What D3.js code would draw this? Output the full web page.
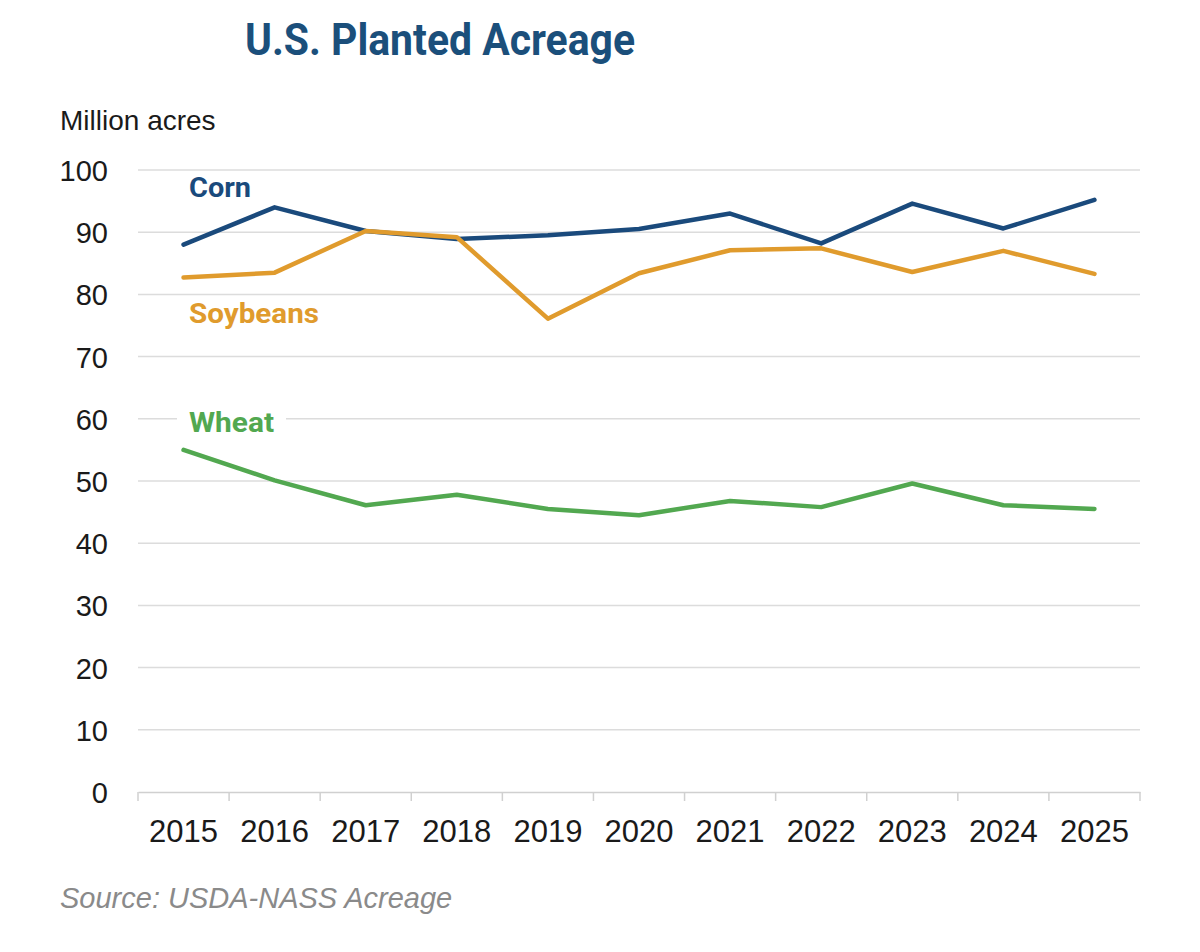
<!DOCTYPE html>
<html><head><meta charset="utf-8">
<script src="https://cdn.jsdelivr.net/npm/d3@7"></script>
<style>html,body{margin:0;padding:0;background:#fff;}</style>
</head><body>
<svg id="chart" width="1200" height="952"></svg>
<script>
const years = ["2015","2016","2017","2018","2019","2020","2021","2022","2023","2024","2025"];
const corn = [88.0, 94.0, 90.2, 88.9, 89.5, 90.5, 93.0, 88.2, 94.6, 90.6, 95.2];
const soybeans = [82.7, 83.5, 90.2, 89.2, 76.1, 83.4, 87.1, 87.4, 83.6, 87.0, 83.3];
const wheat = [55.0, 50.1, 46.1, 47.8, 45.5, 44.5, 46.8, 45.8, 49.6, 46.1, 45.5];
const yTicks = [0,10,20,30,40,50,60,70,80,90,100];
const seriesNames = ["Corn","Soybeans","Wheat"];
const seriesColors = ["#1a4a7c","#e09b2d","#52a850"];
const labelValues = [95.7, 75.4, 57.9];

const svg = d3.select("#chart");
const font = "'Liberation Sans', Arial, sans-serif";
const x = d3.scaleBand().domain(years).range([138,1140]).padding(0);
const y = d3.scaleLinear().domain([0,100]).range([792,170]);

// title
svg.append("text").attr("x",245).attr("y",55)
  .attr("font-family","Roboto, sans-serif").attr("font-weight",700).attr("font-size",45)
  .attr("fill","#1b4f7b").attr("textLength",390).attr("lengthAdjust","spacingAndGlyphs")
  .text("U.S. Planted Acreage");

svg.append("text").attr("x",60).attr("y",130)
  .attr("font-family",font).attr("font-size",28).attr("fill","#1a1a1a").text("Million acres");

// gridlines
svg.append("g").selectAll("line").data(yTicks.filter(d=>d>0)).join("line")
  .attr("x1",138).attr("x2",1140).attr("y1",d=>y(d)).attr("y2",d=>y(d))
  .attr("stroke","#dcdcdc").attr("stroke-width",1.5);

// y axis labels
const yAxis = d3.axisLeft(y).tickValues(yTicks).tickSize(0).tickPadding(0);
const gy = svg.append("g").attr("transform","translate(108,0)").call(yAxis);
gy.select(".domain").remove();
gy.selectAll("text").attr("font-family",font).attr("font-size",29).attr("fill","#1a1a1a").attr("dy","0.36em");

// x axis
const xAxis = d3.axisBottom(x).tickSize(0).tickPadding(0);
const gx = svg.append("g").attr("transform","translate(0,792)").call(xAxis);
gx.select(".domain").attr("stroke","#d0d0d0").attr("stroke-width",1.5);
gx.selectAll("text").attr("font-family",font).attr("font-size",31).attr("fill","#1a1a1a").attr("y",50).attr("dy",0);
// band-edge ticks
svg.append("g").selectAll("line").data(years.concat(["end"])).join("line")
  .attr("x1",(d,i)=>i<years.length? x(d): x.range()[1])
  .attr("x2",(d,i)=>i<years.length? x(d): x.range()[1])
  .attr("y1",792).attr("y2",801).attr("stroke","#d0d0d0").attr("stroke-width",1.5);

// lines
const data = [corn, soybeans, wheat];
const line = d3.line().x((d,i)=>x(years[i])+x.bandwidth()/2).y(d=>y(d));
svg.append("g").selectAll("path").data(data).join("path")
  .attr("d",line).attr("fill","none")
  .attr("stroke",(d,i)=>seriesColors[i]).attr("stroke-width",4.5)
  .attr("stroke-linejoin","round").attr("stroke-linecap","round");

// labels
const lg = svg.append("g").selectAll("g").data(seriesNames).join("g");
const labelWidths = [62,130,85];
lg.append("rect").attr("x",177).attr("width",(d,i)=>labelWidths[i]+24)
  .attr("y",(d,i)=>y(labelValues[i])-24).attr("height",30).attr("fill","#fff");
lg.append("text").attr("x",189).attr("y",(d,i)=>y(labelValues[i]))
  .attr("font-family","Roboto, sans-serif").attr("font-weight",700).attr("font-size",28)
  .attr("fill",(d,i)=>seriesColors[i])
  .attr("textLength",(d,i)=>labelWidths[i]).attr("lengthAdjust","spacingAndGlyphs")
  .text(d=>d);

// source
svg.append("text").attr("x",60).attr("y",908)
  .attr("font-family",font).attr("font-style","italic").attr("font-size",29).attr("fill","#8a8a8a")
  .text("Source: USDA-NASS Acreage");
</script>
</body></html>
